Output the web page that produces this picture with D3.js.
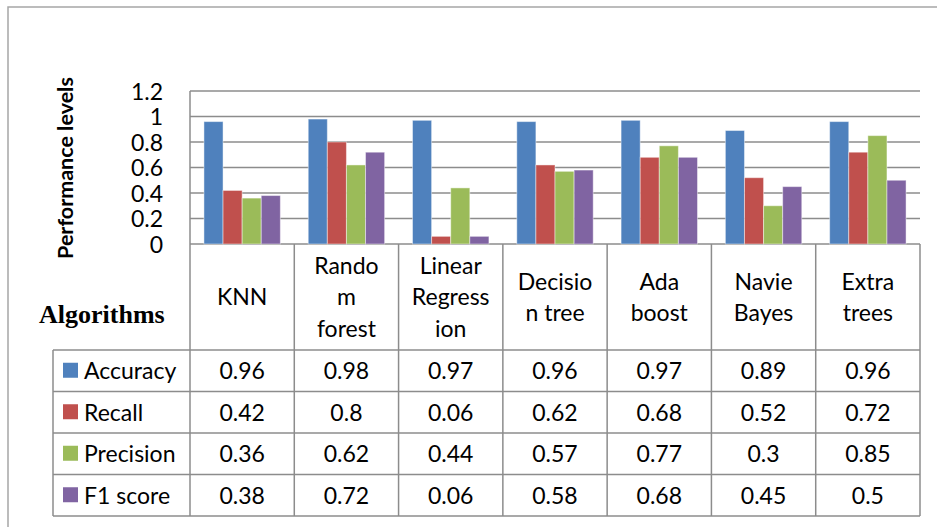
<!DOCTYPE html>
<html>
<head>
<meta charset="utf-8">
<script src="https://cdn.jsdelivr.net/npm/d3@7"></script>
<style>
  body { margin: 0; background: #fff; }
  text { font-family: Lato, "Open Sans", sans-serif; }
</style>
</head>
<body>
<div id="container"></div>
<script>
/* DATA */
const algorithms = ["KNN", "Random forest", "Linear Regression", "Decision tree", "Ada boost", "Navie Bayes", "Extra trees"];
// header text as it wraps in the table cells
const headerLines = [["KNN"], ["Rando", "m", "forest"], ["Linear", "Regress", "ion"], ["Decisio", "n tree"], ["Ada", "boost"], ["Navie", "Bayes"], ["Extra", "trees"]];
const seriesNames = ["Accuracy", "Recall", "Precision", "F1 score"];
const accuracy = [0.96, 0.98, 0.97, 0.96, 0.97, 0.89, 0.96];
const recall = [0.42, 0.8, 0.06, 0.62, 0.68, 0.52, 0.72];
const precision = [0.36, 0.62, 0.44, 0.57, 0.77, 0.3, 0.85];
const f1score = [0.38, 0.72, 0.06, 0.58, 0.68, 0.45, 0.5];
const yTicks = [0, 0.2, 0.4, 0.6, 0.8, 1, 1.2];

const seriesValues = [accuracy, recall, precision, f1score];
const colors = ["#4f81bd", "#c0504d", "#9bbb59", "#8064a2"];

/* CONSTANTS */
const width = 937;
const height = 527;
const plotLeft = 190, plotRight = 920, plotTop = 91, plotBottom = 244;
const headerBottom = 350;
const rowH = 41.5;
const legendLeft = 53;
const gridColor = "#8c8c8c";

const svg = d3.select("#container")
    .append("svg")
    .attr("width", width)
    .attr("height", height)

// outer frame (left + top edges visible)
svg.append("path")
    .attr("d", `M8,${height} V7 H${width}`)
    .attr("fill", "none")
    .attr("stroke", "#a6a6a6")
    .attr("stroke-width", 1.5)

/* SCALES */
const x0 = d3.scaleBand()
    .domain(algorithms)
    .range([plotLeft, plotRight])

const x1 = d3.scaleBand()
    .domain(seriesNames)
    .range([0, x0.bandwidth()])
    .paddingOuter(0.73)

const y = d3.scaleLinear()
    .domain([0, 1.2])
    .range([plotBottom, plotTop])

// gridlines
svg.append("g")
    .selectAll("line")
    .data(yTicks)
    .join("line")
    .attr("x1", plotLeft)
    .attr("x2", plotRight)
    .attr("y1", d => y(d))
    .attr("y2", d => y(d))
    .attr("stroke", gridColor)
    .attr("stroke-width", 1.5)

// y axis
const yAxis = svg.append("g")
    .attr("transform", `translate(${plotLeft},0)`)
    .call(d3.axisLeft(y).tickValues(yTicks).tickSize(0).tickPadding(27)
        .tickFormat(d3.format(".1~f")))
yAxis.select(".domain").remove()
yAxis.selectAll("text")
    .style("font-family", "Lato, sans-serif")
    .style("font-size", "23px")
    .attr("fill", "#000")
    .attr("dy", "0.36em")

svg.append("text")
    .attr("transform", `translate(73,${(63 + 273) / 2}) rotate(-90)`)
    .attr("text-anchor", "middle")
    .style("font-size", "21.5px")
    .style("font-weight", "bold")
    .text("Performance levels")

// bars
const groups = svg.append("g")
    .selectAll("g")
    .data(algorithms)
    .join("g")
    .attr("transform", d => `translate(${x0(d)},0)`)

groups.selectAll("rect")
    .data((d, i) => seriesNames.map((s, j) => ({ s, j, v: seriesValues[j][i] })))
    .join("rect")
    .attr("x", d => x1(d.s))
    .attr("width", x1.bandwidth())
    .attr("y", d => y(d.v))
    .attr("height", d => y(0) - y(d.v))
    .attr("fill", d => colors[d.j])
    .attr("stroke", "rgba(255,255,255,0.45)")
    .attr("stroke-width", 1)

/* TABLE */
const rowY = seriesNames.map((s, j) => headerBottom + j * rowH);
const tableBottom = headerBottom + seriesNames.length * rowH;

const tbl = svg.append("g")
    .attr("stroke", gridColor)
    .attr("stroke-width", 1.5)

// y axis line continuing down through the table
tbl.append("line")
    .attr("x1", plotLeft).attr("x2", plotLeft)
    .attr("y1", plotTop).attr("y2", tableBottom)

// column lines
tbl.selectAll(".col")
    .data(algorithms)
    .join("line")
    .attr("class", "col")
    .attr("x1", d => x0(d) + x0.bandwidth())
    .attr("x2", d => x0(d) + x0.bandwidth())
    .attr("y1", plotBottom)
    .attr("y2", tableBottom)

// row lines
tbl.selectAll(".row")
    .data([...rowY, tableBottom])
    .join("line")
    .attr("class", "row")
    .attr("x1", legendLeft)
    .attr("x2", plotRight)
    .attr("y1", d => d)
    .attr("y2", d => d)

tbl.append("line")
    .attr("x1", legendLeft).attr("x2", legendLeft)
    .attr("y1", headerBottom).attr("y2", tableBottom)

// header labels
const lineH = 31.5;
const headerMid = (plotBottom + headerBottom) / 2;
svg.append("g")
    .selectAll("text")
    .data(algorithms)
    .join("text")
    .attr("text-anchor", "middle")
    .style("font-size", "23px")
    .each(function (d, i) {
        const lines = headerLines[i];
        const start = headerMid - (lines.length - 1) * lineH / 2;
        d3.select(this).selectAll("tspan")
            .data(lines)
            .join("tspan")
            .attr("x", x0(d) + x0.bandwidth() / 2)
            .attr("y", (l, k) => start + k * lineH)
            .attr("dy", "0.36em")
            .text(l => l)
    })

svg.append("text")
    .attr("x", 39)
    .attr("y", 323)
    .style("font-family", "'Liberation Serif', 'Times New Roman', serif")
    .style("font-size", "26px")
    .style("font-weight", "bold")
    .text("Algorithms")

// legend keys + names
const legendRows = svg.append("g")
    .selectAll("g")
    .data(seriesNames)
    .join("g")
    .attr("transform", (d, j) => `translate(0,${rowY[j] + rowH / 2})`)

legendRows.append("rect")
    .attr("x", 63)
    .attr("y", -8)
    .attr("width", 15)
    .attr("height", 15)
    .attr("fill", (d, j) => colors[j])

legendRows.append("text")
    .attr("x", 84)
    .attr("dy", "0.36em")
    .style("font-size", "23px")
    .text(d => d)

// values
legendRows.each(function (s, j) {
    d3.select(this).selectAll(".val")
        .data(seriesValues[j])
        .join("text")
        .attr("class", "val")
        .attr("x", (v, i) => x0(algorithms[i]) + x0.bandwidth() / 2)
        .attr("dy", "0.36em")
        .attr("text-anchor", "middle")
        .style("font-size", "23px")
        .text(v => v)
})
</script>
</body>
</html>
